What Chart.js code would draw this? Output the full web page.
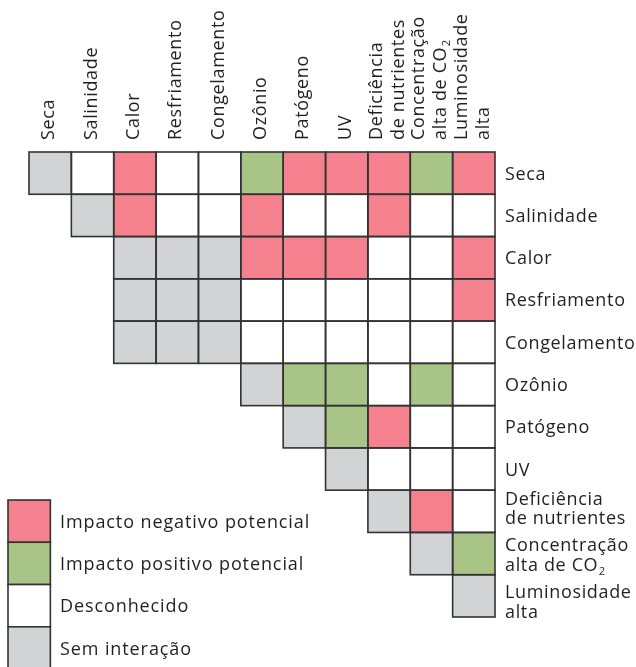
<!DOCTYPE html>
<html>
<head>
<meta charset="utf-8">
<script src="https://cdn.jsdelivr.net/npm/chart.js@4.4.1/dist/chart.umd.min.js"></script>
<style>
  html, body { margin: 0; padding: 0; background: #fff; }
  canvas { display: block; }
</style>
</head>
<body>
<canvas id="c" width="636" height="667"></canvas>
<script>
/* ----- data ----- */
// stress factors, one per column and one per row (multi-line labels as arrays)
const factors = [
  ['Seca'], ['Salinidade'], ['Calor'], ['Resfriamento'], ['Congelamento'],
  ['Ozônio'], ['Patógeno'], ['UV'], ['Deficiência', 'de nutrientes'],
  ['Concentração', 'alta de CO₂'], ['Luminosidade', 'alta']
];

// N = impacto negativo, P = impacto positivo, U = desconhecido, S = sem interação
const seca         = ['S','U','N','U','U','P','N','N','N','P','N'];
const salinidade   = [null,'S','N','U','U','N','U','U','N','U','U'];
const calor        = [null,null,'S','S','S','N','N','N','U','U','N'];
const resfriamento = [null,null,'S','S','S','U','U','U','U','U','N'];
const congelamento = [null,null,'S','S','S','U','U','U','U','U','U'];
const ozonio       = [null,null,null,null,null,'S','P','P','U','P','U'];
const patogeno     = [null,null,null,null,null,null,'S','P','N','U','U'];
const uv           = [null,null,null,null,null,null,null,'S','U','U','U'];
const deficiencia  = [null,null,null,null,null,null,null,null,'S','N','U'];
const co2          = [null,null,null,null,null,null,null,null,null,'S','P'];
const luminosidade = [null,null,null,null,null,null,null,null,null,null,'S'];
const rows = [seca, salinidade, calor, resfriamento, congelamento, ozonio,
              patogeno, uv, deficiencia, co2, luminosidade];

const legendCodes  = ['N', 'P', 'U', 'S'];
const legendLabels = ['Impacto negativo potencial', 'Impacto positivo potencial',
                      'Desconhecido', 'Sem interação'];

/* ----- style ----- */
const fills = { N: '#F4818D', P: '#A9C487', U: '#FFFFFF', S: '#D1D3D4' };
const LINE = '#333333';
const INK  = '#231F20';
const FONT = '"Open Sans", "Noto Sans", sans-serif';

// draws text, rendering '₂' as a lowered small 2
function textSub(ctx, str, x, y, size, spacing){
  ctx.letterSpacing = spacing + 'px';
  const parts = str.split('₂');
  let cx = x;
  parts.forEach((p, i) => {
    ctx.font = size + 'px ' + FONT;
    ctx.fillText(p, cx, y);
    cx += ctx.measureText(p).width;
    if (i < parts.length - 1) {
      ctx.font = (size * 0.62) + 'px ' + FONT;
      ctx.fillText('2', cx + 0.5, y + size * 0.22);
      cx += ctx.measureText('2').width + 0.5;
    }
  });
  ctx.letterSpacing = '0px';
}

/* ----- cell borders, labels and legend ----- */
const decor = {
  id: 'decor',
  afterDatasetsDraw(chart){
    const ctx = chart.ctx, xs = chart.scales.x, ys = chart.scales.y;
    ctx.save();
    // outline every drawn cell
    ctx.strokeStyle = LINE; ctx.lineWidth = 1.6;
    chart.data.datasets.forEach((ds, di) => {
      chart.getDatasetMeta(di).data.forEach((el, j) => {
        if (ds.data[j] == null) return;
        const p = el.getProps(['x','y','base','width'], true);
        ctx.strokeRect(p.x - p.width/2, Math.min(p.y, p.base), p.width, Math.abs(p.base - p.y));
      });
    });

    ctx.fillStyle = INK;
    ctx.textAlign = 'left';
    ctx.textBaseline = 'alphabetic';
    const size = 18, sp = 0.65;

    // column labels, rotated
    factors.forEach((lab, j) => {
      const cx = xs.getPixelForValue(j);
      const bases = lab.length === 1 ? [cx + 4] : [cx - 7, cx + 15];
      lab.forEach((line, k) => {
        ctx.save();
        ctx.translate(bases[k], 140);
        ctx.rotate(-Math.PI/2);
        textSub(ctx, line, 0, 0, size, sp);
        ctx.restore();
      });
    });

    // row labels, right of the matrix (two-line ones drift down a little)
    const lx = xs.right + 10;
    let twoLine = 0;
    factors.forEach((lab, i) => {
      const cy = (ys.getPixelForValue(i) + ys.getPixelForValue(i + 1)) / 2;
      let bases = [cy + 6.5];
      if (lab.length > 1) {
        const s = -6.5 + 4.4 * twoLine++;
        bases = [cy + s, cy + s + 19.5];
      }
      lab.forEach((line, k) => textSub(ctx, line, lx, bases[k], size, sp));
    });

    // legend
    const cell = xs.width / factors.length, lh = ys.height / factors.length;
    legendCodes.forEach((code, k) => {
      const top = 500 + k * lh;
      ctx.fillStyle = fills[code];
      ctx.fillRect(8, top, cell, lh);
      ctx.strokeStyle = LINE;
      ctx.strokeRect(8, top, cell, lh);
      ctx.fillStyle = INK;
      textSub(ctx, legendLabels[k], 60, top + lh/2 + 6.7, 18, 0.9);
    });
    ctx.restore();
  }
};

new Chart(document.getElementById('c'), {
  type: 'bar',
  data: {
    labels: factors.map(f => f.join(' ')),
    datasets: rows.map((r, i) => ({
      data: r.map(v => v ? [i, i + 1] : null),
      backgroundColor: r.map(v => v ? fills[v] : 'transparent'),
      borderWidth: 0,
      barPercentage: 1,
      categoryPercentage: 1,
      grouped: false
    }))
  },
  options: {
    responsive: false,
    animation: false,
    layout: { padding: { left: 29, top: 152, right: 141, bottom: 50 } },
    plugins: { legend: { display: false }, tooltip: { enabled: false } },
    scales: {
      x: { display: false },
      y: { display: false, min: 0, max: 11, reverse: true }
    }
  },
  plugins: [decor]
});
</script>
</body>
</html>
